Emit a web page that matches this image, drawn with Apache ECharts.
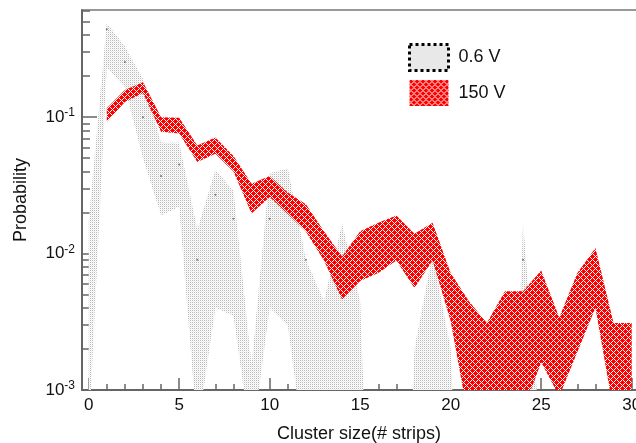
<!DOCTYPE html>
<html>
<head>
<meta charset="UTF-8">
<title>Cluster size</title>
<script src="https://cdn.jsdelivr.net/npm/echarts@6/dist/echarts.min.js"></script>
<style>
  html, body { margin: 0; padding: 0; background: #fff; }
  #chart { width: 636px; height: 443px; }
</style>
</head>
<body>
<div id="chart"></div>
<script>
// 0.6 V band (upper / lower edge), cluster size 0..30
var lowX = [0,1,2,3,4,5,6,7,8,9,10,11,12,13,14,15,16,17,18,19,20,21,22,23,24,25,26,27,28,29,30];
var lowUpper = [0.017,0.49,0.33,0.19,0.065,0.065,0.015,0.041,0.029,0.0015,0.039,0.042,0.009,0.0045,0.0166,0.0045,
                1e-6,1e-6,0.002,0.01,0.002,1e-6,1e-6,3.5e-6,0.017,4e-4,1e-6,1e-6,1e-6,1e-6,1e-6];
var lowLower = [4.6e-4,0.23,0.166,0.05,0.019,0.022,0.0005,0.004,0.0035,0.0004,0.004,0.003,0.0003,1e-6,1e-6,1e-6,
                1e-6,1e-6,1e-6,1e-6,1e-6,1e-6,1e-6,1e-6,1e-6,1e-6,1e-6,1e-6,1e-6,1e-6,1e-6];
// visible centre points of the 0.6 V curve
var lowDotX = [1,2,3,4,5,6,7,8,10,12,24];
var lowDot = [0.44,0.254,0.1,0.037,0.045,0.009,0.027,0.018,0.018,0.009,0.009];

// 150 V band, cluster size 1..30
var highX = [1,2,3,4,5,6,7,8,9,10,11,12,13,14,15,16,17,18,19,20,21,22,23,24,25,26,27,28,29,30];
var highUpper = [0.116,0.158,0.18,0.1,0.099,0.062,0.071,0.052,0.0325,0.037,0.028,0.023,0.0146,0.0095,0.0146,
                 0.0168,0.019,0.014,0.0168,0.0072,0.0045,0.0031,0.0053,0.0053,0.0075,0.0034,0.0072,0.011,0.0031,0.0031];
var highLower = [0.092,0.129,0.15,0.078,0.076,0.047,0.054,0.04,0.0197,0.026,0.0195,0.0145,0.0089,0.0046,0.0063,
                 0.0072,0.0089,0.0056,0.0089,0.0032,0.0006,0.0005,0.0005,0.0007,0.0016,0.0009,0.0019,0.004,0.0007,0.0007];

var xMajor = [0,5,10,15,20,25,30];
var xMinor = [1,2,3,4,6,7,8,9,11,12,13,14,16,17,18,19,21,22,23,24,26,27,28,29];
var yMajor = [0.001,0.01,0.1];
var yMinor = [0.002,0.003,0.004,0.005,0.006,0.007,0.008,0.009,
              0.02,0.03,0.04,0.05,0.06,0.07,0.08,0.09,
              0.2,0.3,0.4,0.5,0.6];

var FONT = 'Liberation Sans, Arial, sans-serif';
var AXIS = '#666';
var xMin = -0.37, xMax = 30.24, yMin = 0.001, yMax = 0.61;

function makePattern(size, paint) {
  var c = document.createElement('canvas');
  c.width = c.height = size;
  var ctx = c.getContext('2d');
  for (var y = 0; y < size; y++) {
    for (var x = 0; x < size; x++) {
      ctx.fillStyle = paint(x, y);
      ctx.fillRect(x, y, 1, 1);
    }
  }
  return { image: c, repeat: 'repeat' };
}
// red round blobs on a staggered 6px lattice, white holes between
var redFill = makePattern(6, function (x, y) {
  var px = x + 0.5, py = y + 0.5, best = 99;
  [[1.5, 1.5], [4.5, 4.5]].forEach(function (c) {
    for (var dx = -6; dx <= 6; dx += 6) {
      for (var dy = -6; dy <= 6; dy += 6) {
        var d = Math.sqrt(Math.pow(px - c[0] - dx, 2) + Math.pow(py - c[1] - dy, 2));
        if (d < best) best = d;
      }
    }
  });
  return best < 2.05 ? '#ff0000' : '#ffffff';
});
// fine grey dots
var greyFill = makePattern(2, function (x, y) {
  if (x === 0 && y === 0) return '#b8b8b8';
  if (x === 1 && y === 1) return '#ececec';
  return '#fff';
});

function band(name, xs, upper, lower, fill, z) {
  return {
    type: 'custom',
    name: name,
    clip: true,
    z: z,
    itemStyle: { color: fill },
    data: xs.map(function (x, i) { return [x, upper[i], lower[i]]; }),
    encode: { x: 0, y: [1, 2] },
    renderItem: function (params, api) {
      if (params.dataIndex !== 0) return null;
      var pts = [];
      for (var i = 0; i < xs.length; i++) pts.push(api.coord([xs[i], upper[i]]));
      for (var j = xs.length - 1; j >= 0; j--) pts.push(api.coord([xs[j], lower[j]]));
      return { type: 'polygon', shape: { points: pts }, style: { fill: fill } };
    }
  };
}

var myChart = echarts.init(document.getElementById('chart'));
var option = {
  animation: false,
  backgroundColor: '#fff',
  grid: { left: 82, right: 0, top: 10, bottom: 53, containLabel: false, outerBoundsMode: 'none' },
  legend: {
    orient: 'vertical',
    left: 408, top: 43, padding: 0,
    itemWidth: 39, itemHeight: 26, itemGap: 8,
    selectedMode: false,
    textStyle: { fontSize: 18, color: '#111', fontFamily: FONT, padding: [0, 0, 0, 5] },
    data: [
      { name: '0.6 V', icon: 'rect', itemStyle: { color: greyFill, borderColor: '#000', borderWidth: 3, borderType: 'dotted' } },
      { name: '150 V', icon: 'rect', itemStyle: { color: redFill, borderWidth: 0 } }
    ]
  },
  xAxis: [
    {
      type: 'value', min: xMin, max: xMax, position: 'bottom',
      axisLine: { onZero: false, lineStyle: { color: AXIS, width: 2 } },
      axisTick: { inside: true, length: 12, customValues: xMajor, lineStyle: { color: AXIS, width: 1.5 } },
      axisLabel: { customValues: xMajor, color: '#111', fontSize: 17, fontFamily: FONT, margin: 7 },
      splitLine: { show: false },
      name: 'Cluster size(# strips)', nameLocation: 'middle', nameGap: 35,
      nameTextStyle: { fontSize: 18, color: '#111', fontFamily: FONT }
    },
    {
      type: 'value', min: xMin, max: xMax, position: 'bottom',
      axisLine: { show: false, onZero: false },
      axisTick: { inside: true, length: 6, customValues: xMinor, lineStyle: { color: AXIS, width: 1.5 } },
      axisLabel: { show: false }, splitLine: { show: false }
    },
    {
      type: 'value', min: xMin, max: xMax, position: 'top',
      axisLine: { onZero: false, lineStyle: { color: '#777', width: 1.5 } },
      axisTick: { show: false }, axisLabel: { show: false }, splitLine: { show: false }
    }
  ],
  yAxis: [
    {
      type: 'log', logBase: 10, min: yMin, max: yMax,
      axisLine: { show: true, onZero: false, lineStyle: { color: AXIS, width: 2 } },
      axisTick: { show: true, inside: true, length: 15, customValues: yMajor, lineStyle: { color: AXIS, width: 1.5 } },
      axisLabel: {
        customValues: yMajor, margin: 7,
        formatter: function (v) { return '{b|10}{s|' + Math.round(Math.log(v) / Math.LN10) + '}'; },
        rich: {
          b: { fontSize: 17, color: '#111', fontFamily: FONT, lineHeight: 20 },
          s: { fontSize: 12, color: '#111', fontFamily: FONT, verticalAlign: 'top', lineHeight: 12 }
        }
      },
      splitLine: { show: false },
      name: 'Probability', nameLocation: 'middle', nameGap: 52,
      nameTextStyle: { fontSize: 18, color: '#111', fontFamily: FONT }
    },
    {
      type: 'log', logBase: 10, min: yMin, max: yMax, position: 'left',
      axisLine: { show: false, onZero: false },
      axisTick: { show: true, inside: true, length: 8, customValues: yMinor, lineStyle: { color: AXIS, width: 1.5 } },
      axisLabel: { show: false }, splitLine: { show: false }
    }
  ],
  series: [
    band('0.6 V', lowX, lowUpper, lowLower, greyFill, 1),
    {
      type: 'scatter', name: 'dots', z: 2, silent: true,
      symbolSize: 2, itemStyle: { color: '#555' },
      data: lowDotX.map(function (x, i) { return [x, lowDot[i]]; })
    },
    band('150 V', highX, highUpper, highLower, redFill, 3)
  ]
};
myChart.setOption(option);
</script>
</body>
</html>
